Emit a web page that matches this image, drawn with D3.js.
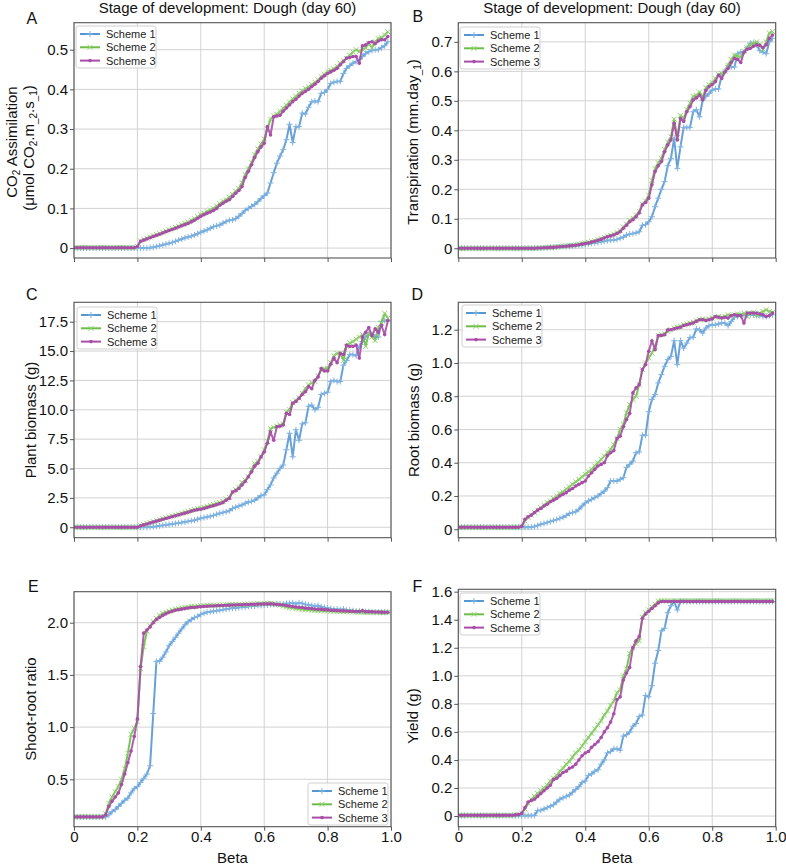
<!DOCTYPE html>
<html><head><meta charset="utf-8">
<script src="https://cdn.jsdelivr.net/npm/d3@7"></script>
<style>
body{margin:0;background:#fff;}
svg{display:block;font-family:"Liberation Sans",Arial,Helvetica,sans-serif;}
</style></head><body>
<svg id="chart" width="786" height="868"></svg>
<script>
// ---------------- DATA ----------------
const beta = d3.range(100).map(i => i / 100);
const seriesNames = ["Scheme 1", "Scheme 2", "Scheme 3"];
const xTicks = [0, 0.2, 0.4, 0.6, 0.8, 1.0];
const yTicksA = [0, 0.1, 0.2, 0.3, 0.4, 0.5];
const yTicksB = [0, 0.1, 0.2, 0.3, 0.4, 0.5, 0.6, 0.7];
const yTicksC = [0, 2.5, 5.0, 7.5, 10.0, 12.5, 15.0, 17.5];
const yTicksD = [0, 0.2, 0.4, 0.6, 0.8, 1.0, 1.2];
const yTicksE = [0.5, 1.0, 1.5, 2.0];
const yTicksF = [0, 0.2, 0.4, 0.6, 0.8, 1.0, 1.2, 1.4, 1.6];

// A: CO2 assimilation
const co2_s1 = [
0,0,0,0,0,0,0,0,0,0,
0,0,0,0,0,0,0,0,0,0,
0,0,0,0,0.001,0.002,0.004,0.006,0.008,0.010,
0.012,0.014,0.017,0.020,0.023,0.026,0.028,0.030,0.033,0.036,
0.040,0.043,0.046,0.050,0.054,0.056,0.058,0.063,0.067,0.070,
0.071,0.074,0.080,0.087,0.095,0.100,0.105,0.110,0.117,0.125,
0.132,0.139,0.164,0.190,0.214,0.232,0.248,0.273,0.312,0.266,
0.306,0.306,0.340,0.338,0.355,0.369,0.370,0.369,0.390,0.392,
0.400,0.415,0.418,0.420,0.420,0.440,0.453,0.460,0.466,0.470,
0.475,0.483,0.490,0.495,0.498,0.500,0.500,0.505,0.510,0.520];
const co2_s2 = [
0.001,0.001,0.001,0.001,0.001,0.001,0.001,0.001,0.001,0.001,
0.001,0.001,0.001,0.001,0.001,0.001,0.001,0.001,0.001,0.001,
0.004,0.018,0.022,0.025,0.028,0.031,0.034,0.037,0.040,0.043,
0.046,0.049,0.052,0.055,0.059,0.062,0.066,0.070,0.074,0.079,
0.084,0.088,0.092,0.096,0.100,0.106,0.112,0.118,0.122,0.128,
0.135,0.143,0.150,0.165,0.185,0.200,0.215,0.235,0.250,0.262,
0.275,0.300,0.325,0.333,0.337,0.345,0.352,0.360,0.368,0.376,
0.382,0.390,0.396,0.402,0.406,0.412,0.418,0.424,0.432,0.438,
0.444,0.448,0.452,0.458,0.466,0.472,0.478,0.486,0.494,0.500,
0.495,0.500,0.505,0.515,0.505,0.520,0.528,0.530,0.537,0.545];
const co2_s3 = [
0.001,0.001,0.001,0.001,0.001,0.001,0.001,0.001,0.001,0.001,
0.001,0.001,0.001,0.001,0.001,0.001,0.001,0.001,0.001,0.001,
0.004,0.017,0.020,0.023,0.026,0.029,0.032,0.035,0.038,0.041,
0.044,0.047,0.050,0.053,0.056,0.059,0.062,0.066,0.070,0.075,
0.080,0.084,0.088,0.091,0.095,0.100,0.108,0.113,0.118,0.122,
0.130,0.138,0.145,0.155,0.178,0.193,0.210,0.228,0.243,0.255,
0.264,0.306,0.285,0.331,0.333,0.335,0.345,0.353,0.361,0.369,
0.375,0.383,0.390,0.395,0.400,0.407,0.413,0.420,0.428,0.434,
0.440,0.444,0.448,0.453,0.462,0.470,0.479,0.480,0.483,0.483,
0.466,0.510,0.512,0.518,0.520,0.515,0.522,0.525,0.525,0.533];

// B: transpiration
const trans_s1 = [
0,0,0,0,0,0,0,0,0,0,
0,0,0,0,0,0,0,0,0,0,
0,0,0,0,0,0.001,0.001,0.002,0.002,0.003,
0.003,0.004,0.005,0.006,0.006,0.007,0.008,0.009,0.010,0.011,
0.013,0.015,0.017,0.018,0.020,0.022,0.024,0.026,0.027,0.028,
0.030,0.034,0.038,0.045,0.048,0.050,0.052,0.056,0.078,0.080,
0.090,0.107,0.141,0.170,0.200,0.226,0.280,0.305,0.373,0.271,
0.344,0.410,0.410,0.410,0.463,0.470,0.446,0.503,0.515,0.525,
0.537,0.540,0.540,0.587,0.600,0.620,0.615,0.615,0.660,0.665,
0.665,0.680,0.695,0.695,0.690,0.670,0.665,0.660,0.700,0.712];
const trans_s2 = [
0,0,0,0,0,0,0,0,0,0,
0,0,0,0,0,0,0,0,0,0,
0,0,0,0,0,0.001,0.001,0.002,0.003,0.003,
0.004,0.005,0.006,0.007,0.008,0.009,0.010,0.012,0.014,0.016,
0.018,0.020,0.023,0.026,0.029,0.033,0.037,0.041,0.044,0.048,
0.053,0.060,0.072,0.082,0.095,0.102,0.112,0.125,0.150,0.160,
0.180,0.230,0.270,0.290,0.305,0.335,0.360,0.378,0.438,0.375,
0.450,0.440,0.470,0.492,0.515,0.518,0.530,0.510,0.545,0.555,
0.562,0.575,0.590,0.592,0.600,0.620,0.640,0.655,0.652,0.648,
0.668,0.680,0.690,0.695,0.700,0.690,0.675,0.700,0.730,0.735];
const trans_s3 = [
0,0,0,0,0,0,0,0,0,0,
0,0,0,0,0,0,0,0,0,0,
0,0,0,0,0,0.001,0.001,0.002,0.002,0.003,
0.003,0.004,0.005,0.006,0.007,0.008,0.009,0.010,0.012,0.014,
0.016,0.018,0.021,0.024,0.027,0.030,0.035,0.039,0.042,0.045,
0.050,0.056,0.068,0.078,0.090,0.097,0.107,0.120,0.147,0.155,
0.170,0.215,0.260,0.280,0.294,0.327,0.350,0.367,0.424,0.367,
0.440,0.430,0.463,0.480,0.503,0.510,0.520,0.503,0.535,0.548,
0.555,0.565,0.587,0.576,0.598,0.610,0.630,0.644,0.640,0.630,
0.665,0.675,0.678,0.685,0.690,0.688,0.680,0.690,0.712,0.723];

// C: plant biomass
const plant_s1 = [
0,0,0,0,0,0,0,0,0,0,
0,0,0,0,0,0,0,0,0,0,
0,0,0,0,0.02,0.05,0.08,0.12,0.16,0.20,
0.24,0.28,0.32,0.36,0.40,0.45,0.50,0.55,0.60,0.68,
0.77,0.82,0.88,0.93,1.00,1.10,1.19,1.25,1.32,1.40,
1.60,1.70,1.80,1.90,2.04,2.15,2.20,2.30,2.50,2.70,
2.75,3.20,3.60,4.20,4.60,5.00,5.30,6.60,8.00,6.00,
8.30,7.40,8.80,8.90,10.30,10.40,10.00,10.20,11.30,11.40,
11.50,12.40,12.50,12.40,12.40,13.80,14.20,14.70,14.70,14.60,
15.40,15.80,16.20,16.50,16.40,16.20,16.20,17.50,17.60,17.60];
const plant_s2 = [
0,0,0,0,0,0,0,0,0,0,
0,0,0,0,0,0,0,0,0,0,
0,0.14,0.23,0.31,0.40,0.48,0.56,0.64,0.72,0.80,
0.88,0.96,1.03,1.11,1.19,1.27,1.35,1.43,1.51,1.58,
1.62,1.70,1.78,1.86,1.94,2.02,2.10,2.20,2.40,2.55,
3.00,3.20,3.40,3.80,4.00,4.30,4.90,5.40,5.60,6.00,
6.60,7.30,8.40,8.50,8.60,8.70,8.80,9.80,10.00,10.60,
10.80,11.00,11.40,11.80,12.10,12.30,12.40,12.90,13.40,13.50,
13.50,14.00,14.60,14.80,14.80,14.20,15.40,15.70,15.80,16.00,
16.20,16.40,15.40,16.50,16.20,15.90,17.00,17.40,18.20,17.80];
const plant_s3 = [
0,0,0,0,0,0,0,0,0,0,
0,0,0,0,0,0,0,0,0,0,
0,0.12,0.20,0.28,0.36,0.44,0.52,0.60,0.68,0.75,
0.82,0.90,0.97,1.05,1.13,1.20,1.28,1.37,1.45,1.50,
1.53,1.60,1.68,1.76,1.84,1.92,2.00,2.10,2.30,2.45,
3.00,3.10,3.30,3.60,3.90,4.30,4.70,5.20,5.45,6.00,
6.40,7.15,8.10,7.40,8.55,8.60,8.70,9.70,9.60,10.55,
10.70,10.98,11.30,11.54,11.97,11.80,12.50,12.80,13.50,13.30,
13.30,13.90,14.40,14.00,14.80,14.70,15.50,15.40,15.40,15.50,
14.40,16.20,16.60,17.00,16.30,16.90,16.60,17.20,16.40,17.60];

// D: root biomass
const root_s1 = [
0.012,0.012,0.012,0.012,0.012,0.012,0.012,0.012,0.012,0.012,
0.012,0.012,0.012,0.012,0.012,0.012,0.012,0.012,0.012,0.012,
0.012,0.012,0.012,0.013,0.016,0.022,0.030,0.034,0.040,0.046,
0.052,0.058,0.065,0.072,0.082,0.095,0.100,0.105,0.120,0.140,
0.158,0.170,0.180,0.190,0.200,0.215,0.229,0.250,0.290,0.290,
0.290,0.300,0.310,0.372,0.390,0.410,0.460,0.465,0.565,0.565,
0.707,0.780,0.810,0.880,0.930,0.980,1.020,1.040,1.134,0.990,
1.134,1.090,1.120,1.154,1.154,1.205,1.200,1.180,1.210,1.225,
1.230,1.230,1.235,1.240,1.240,1.225,1.250,1.276,1.280,1.285,
1.290,1.290,1.290,1.290,1.285,1.285,1.280,1.280,1.285,1.290];
const root_s2 = [
0.012,0.012,0.012,0.012,0.012,0.012,0.012,0.012,0.012,0.012,
0.012,0.012,0.012,0.012,0.012,0.012,0.012,0.012,0.012,0.012,
0.018,0.050,0.070,0.085,0.100,0.115,0.130,0.145,0.160,0.170,
0.185,0.200,0.215,0.225,0.240,0.255,0.270,0.285,0.300,0.315,
0.330,0.345,0.360,0.380,0.400,0.420,0.440,0.460,0.480,0.510,
0.545,0.600,0.630,0.700,0.750,0.780,0.800,0.870,0.960,1.000,
1.030,1.060,1.100,1.165,1.170,1.175,1.190,1.200,1.210,1.215,
1.220,1.230,1.235,1.240,1.245,1.255,1.260,1.265,1.260,1.265,
1.270,1.275,1.280,1.275,1.280,1.290,1.285,1.290,1.295,1.290,
1.300,1.280,1.300,1.305,1.285,1.300,1.310,1.320,1.310,1.305];
const root_s3 = [
0.012,0.012,0.012,0.012,0.012,0.012,0.012,0.012,0.012,0.012,
0.012,0.012,0.012,0.012,0.012,0.012,0.012,0.012,0.012,0.012,
0.018,0.060,0.075,0.085,0.100,0.115,0.125,0.140,0.150,0.165,
0.175,0.185,0.200,0.210,0.220,0.235,0.245,0.260,0.270,0.280,
0.290,0.320,0.340,0.360,0.380,0.390,0.400,0.443,0.460,0.473,
0.545,0.560,0.616,0.660,0.697,0.820,0.850,0.870,0.960,0.990,
1.070,1.134,1.080,1.165,1.165,1.170,1.200,1.200,1.205,1.210,
1.215,1.225,1.230,1.235,1.240,1.250,1.260,1.260,1.255,1.260,
1.265,1.280,1.275,1.270,1.275,1.270,1.285,1.290,1.285,1.285,
1.240,1.300,1.300,1.300,1.300,1.295,1.290,1.280,1.285,1.300];

// E: shoot-root ratio
const ratio_s1 = [
0.14,0.14,0.14,0.14,0.14,0.14,0.14,0.14,0.14,0.14,
0.14,0.16,0.19,0.21,0.24,0.27,0.30,0.32,0.37,0.41,
0.43,0.47,0.51,0.55,0.63,1.13,1.63,1.63,1.67,1.72,
1.78,1.82,1.86,1.90,1.94,1.98,2.01,2.03,2.05,2.06,
2.08,2.09,2.10,2.105,2.11,2.115,2.12,2.125,2.13,2.135,
2.14,2.14,2.145,2.15,2.15,2.155,2.16,2.16,2.165,2.165,
2.17,2.17,2.175,2.175,2.18,2.18,2.18,2.185,2.185,2.19,
2.18,2.19,2.185,2.175,2.17,2.165,2.16,2.165,2.15,2.145,
2.14,2.135,2.13,2.13,2.125,2.13,2.12,2.12,2.115,2.11,
2.11,2.11,2.105,2.105,2.10,2.10,2.10,2.10,2.10,2.10];
const ratio_s2 = [
0.14,0.14,0.14,0.14,0.14,0.14,0.14,0.14,0.14,0.14,
0.17,0.27,0.33,0.38,0.43,0.50,0.60,0.75,0.93,0.99,
1.05,1.56,1.77,1.92,1.97,2.01,2.04,2.07,2.09,2.10,
2.11,2.12,2.13,2.135,2.14,2.145,2.15,2.155,2.155,2.16,
2.162,2.164,2.165,2.166,2.167,2.168,2.169,2.17,2.171,2.172,
2.173,2.174,2.175,2.176,2.177,2.178,2.179,2.18,2.181,2.182,
2.185,2.185,2.185,2.18,2.175,2.17,2.16,2.15,2.145,2.14,
2.135,2.13,2.128,2.125,2.122,2.12,2.118,2.116,2.115,2.113,
2.112,2.11,2.11,2.108,2.107,2.106,2.105,2.104,2.103,2.102,
2.102,2.101,2.10,2.10,2.10,2.10,2.10,2.10,2.098,2.10];
const ratio_s3 = [
0.14,0.14,0.14,0.14,0.14,0.14,0.14,0.14,0.14,0.14,
0.16,0.24,0.29,0.33,0.37,0.45,0.55,0.66,0.77,0.91,
1.08,1.58,1.90,1.93,1.96,2.00,2.03,2.05,2.07,2.085,
2.10,2.11,2.12,2.125,2.13,2.135,2.14,2.145,2.145,2.15,
2.153,2.155,2.157,2.16,2.16,2.162,2.165,2.165,2.167,2.168,
2.17,2.17,2.172,2.172,2.174,2.175,2.176,2.177,2.178,2.179,
2.18,2.18,2.18,2.178,2.175,2.172,2.17,2.165,2.16,2.155,
2.15,2.148,2.145,2.14,2.138,2.135,2.132,2.13,2.128,2.125,
2.123,2.12,2.118,2.116,2.115,2.113,2.112,2.11,2.11,2.108,
2.108,2.115,2.106,2.105,2.104,2.103,2.102,2.101,2.10,2.10];

// F: yield
const yield_s1 = [
0.003,0.003,0.003,0.003,0.003,0.003,0.003,0.003,0.003,0.003,
0.003,0.003,0.003,0.003,0.003,0.003,0.003,0.003,0.003,0.003,
0.003,0.003,0.003,0.003,0.005,0.040,0.040,0.050,0.060,0.070,
0.080,0.100,0.120,0.130,0.140,0.150,0.170,0.190,0.210,0.240,
0.250,0.290,0.300,0.320,0.330,0.370,0.400,0.450,0.460,0.480,
0.480,0.470,0.570,0.580,0.600,0.640,0.660,0.710,0.720,0.860,
0.850,0.930,1.090,1.180,1.320,1.340,1.450,1.500,1.530,1.470,
1.530,1.530,1.530,1.530,1.530,1.530,1.530,1.530,1.530,1.530,
1.530,1.530,1.530,1.530,1.530,1.530,1.530,1.530,1.530,1.530,
1.530,1.530,1.530,1.530,1.530,1.530,1.530,1.530,1.530,1.530];
const yield_s2 = [
0.005,0.005,0.005,0.005,0.005,0.005,0.005,0.005,0.005,0.005,
0.005,0.005,0.005,0.005,0.005,0.005,0.005,0.005,0.008,0.010,
0.020,0.050,0.090,0.120,0.140,0.160,0.180,0.200,0.220,0.250,
0.270,0.290,0.320,0.340,0.370,0.390,0.420,0.450,0.470,0.500,
0.530,0.560,0.590,0.620,0.650,0.680,0.720,0.750,0.790,0.820,
0.880,0.900,1.000,1.050,1.160,1.200,1.230,1.250,1.420,1.450,
1.470,1.490,1.510,1.535,1.535,1.535,1.535,1.535,1.535,1.535,
1.535,1.535,1.535,1.535,1.535,1.535,1.535,1.535,1.535,1.535,
1.535,1.535,1.535,1.535,1.535,1.535,1.535,1.535,1.535,1.535,
1.535,1.535,1.535,1.535,1.535,1.535,1.535,1.535,1.535,1.535];
const yield_s3 = [
0.005,0.005,0.005,0.005,0.005,0.005,0.005,0.005,0.005,0.005,
0.005,0.005,0.005,0.005,0.005,0.005,0.005,0.005,0.008,0.010,
0.020,0.060,0.100,0.110,0.120,0.140,0.160,0.180,0.200,0.220,
0.260,0.270,0.290,0.310,0.320,0.340,0.350,0.370,0.400,0.430,
0.450,0.460,0.490,0.510,0.530,0.560,0.600,0.630,0.670,0.730,
0.830,0.850,0.970,1.020,1.060,1.200,1.250,1.280,1.410,1.440,
1.460,1.480,1.500,1.520,1.530,1.530,1.530,1.530,1.530,1.530,
1.530,1.530,1.530,1.530,1.530,1.530,1.530,1.530,1.530,1.530,
1.530,1.530,1.530,1.530,1.530,1.530,1.530,1.530,1.530,1.530,
1.530,1.530,1.530,1.530,1.530,1.530,1.530,1.530,1.530,1.530];

// ---------------- STYLE / LAYOUT ----------------
const colors = ["#5597d3", "#6dbe48", "#a84ea8"];
const markerColors = ["#7fb3e2", "#8fd56c", "#a84ea8"];
const FONT = 15;

const panels = [
  {letter:"A", lx:26.5, ly:24, box:[74,22.7,391,258], yDomain:[-0.025,0.568], yTicks:yTicksA,
   series:[co2_s1,co2_s2,co2_s3], legend:[76,26], xLabels:false, title:true},
  {letter:"B", lx:412.5, ly:22, box:[458.3,22.7,775.7,258], yDomain:[-0.033,0.765], yTicks:yTicksB,
   series:[trans_s1,trans_s2,trans_s3], legend:[460,27], xLabels:false, title:true},
  {letter:"C", lx:26, ly:300, box:[74,302.3,391,537.7], yDomain:[-0.89,19.15], yTicks:yTicksC,
   series:[plant_s1,plant_s2,plant_s3], legend:[77,307], xLabels:false},
  {letter:"D", lx:411.5, ly:300, box:[458.3,302.3,775.7,537.7], yDomain:[-0.051,1.365], yTicks:yTicksD,
   series:[root_s1,root_s2,root_s3], legend:[462,305], xLabels:false},
  {letter:"E", lx:28, ly:592, box:[74,591.7,391,826.7], yDomain:[0.046,2.297], yTicks:yTicksE,
   series:[ratio_s1,ratio_s2,ratio_s3], legend:[308,783], xLabels:true},
  {letter:"F", lx:412.5, ly:592, box:[458.3,589.3,775.7,826.7], yDomain:[-0.076,1.617], yTicks:yTicksF,
   series:[yield_s1,yield_s2,yield_s3], legend:[460,593], xLabels:true}
];

const svg = d3.select("#chart");
const fmt = v => v === 0 ? "0" : v.toFixed(1);

function drawMarker(sel, k) {
  if (k === 0) {
    sel.append("path").attr("d","M-3,0H3M0,-3V3").attr("stroke",markerColors[0]).attr("stroke-width",1).attr("fill","none");
  } else if (k === 1) {
    sel.append("path").attr("d","M-2.5,-2.5L2.5,2.5M-2.5,2.5L2.5,-2.5").attr("stroke",markerColors[1]).attr("stroke-width",1).attr("fill","none");
  } else {
    sel.append("circle").attr("r",1.8).attr("fill",markerColors[2]);
  }
}

function subText(t, parts) {
  let prevSub = false;
  parts.forEach(([s, sub]) => {
    const ts = t.append("tspan").text(s);
    if (sub && !prevSub) ts.attr("dy", 3).attr("font-size", 10);
    else if (!sub && prevSub) ts.attr("dy", -3).attr("font-size", FONT);
    else if (sub) ts.attr("font-size", 10);
    prevSub = sub;
  });
}

panels.forEach((p, pi) => {
  const [x0, y0, x1, y1] = p.box;
  const x = d3.scaleLinear().domain([0, 1]).range([x0, x1]);
  const y = d3.scaleLinear().domain(p.yDomain).range([y1, y0]);
  const g = svg.append("g");

  g.append("g").selectAll("line").data(xTicks).join("line")
    .attr("x1", d => x(d)).attr("x2", d => x(d)).attr("y1", y0).attr("y2", y1)
    .attr("stroke", "#d2d2d2").attr("stroke-width", 1);
  g.append("g").selectAll("line").data(p.yTicks).join("line")
    .attr("x1", x0).attr("x2", x1).attr("y1", d => y(d)).attr("y2", d => y(d))
    .attr("stroke", "#d2d2d2").attr("stroke-width", 1);

  const cid = "clip" + pi;
  svg.append("clipPath").attr("id", cid).append("rect")
    .attr("x", x0).attr("y", y0).attr("width", x1 - x0).attr("height", y1 - y0);
  const plot = g.append("g").attr("clip-path", `url(#${cid})`);

  const line = d3.line().x((d, i) => x(beta[i])).y(d => y(d));
  p.series.forEach((s, k) => {
    const sg = plot.append("g");
    sg.append("path").datum(s).attr("d", line).attr("fill", "none")
      .attr("stroke", colors[k]).attr("stroke-width", 2).attr("stroke-opacity", 0.9)
      .attr("stroke-linejoin", "round");
    const mk = sg.selectAll("g.m").data(s).join("g")
      .attr("transform", (d, i) => `translate(${x(beta[i])},${y(d)})`);
    mk.each(function() { drawMarker(d3.select(this), k); });
  });

  g.append("rect").attr("x", x0).attr("y", y0).attr("width", x1 - x0).attr("height", y1 - y0)
    .attr("fill", "none").attr("stroke", "#555").attr("stroke-width", 1.1);

  const ay = g.append("g").attr("transform", `translate(${x0},0)`)
    .call(d3.axisLeft(y).tickValues(p.yTicks).tickFormat(fmt).tickSize(4).tickPadding(2).tickSizeOuter(0));
  const ax = g.append("g").attr("transform", `translate(0,${y1})`)
    .call(d3.axisBottom(x).tickValues(xTicks).tickFormat(p.xLabels ? fmt : () => "").tickSize(4).tickPadding(1).tickSizeOuter(0));
  [ay, ax].forEach(a => {
    a.select(".domain").remove();
    a.selectAll(".tick line").attr("stroke", "#555");
    a.selectAll(".tick text").attr("fill", "#111").attr("font-size", FONT)
      .attr("font-family", '"Liberation Sans",Arial,sans-serif');
  });

  svg.append("text").attr("x", p.lx).attr("y", p.ly).attr("font-size", 16).attr("fill", "#111").text(p.letter);

  if (p.title) {
    svg.append("text").attr("x", (x0 + x1) / 2 - 5).attr("y", 13).attr("text-anchor", "middle")
      .attr("font-size", FONT).attr("fill", "#111").text("Stage of development: Dough (day 60)");
  }
  if (p.xLabels) {
    svg.append("text").attr("x", (x0 + x1) / 2).attr("y", 863).attr("text-anchor", "middle")
      .attr("font-size", FONT).attr("fill", "#111").text("Beta");
  }

  const [lx, ly] = p.legend;
  const lg = svg.append("g").attr("transform", `translate(${lx},${ly})`);
  lg.append("rect").attr("width", 80).attr("height", 42).attr("rx", 2.5)
    .attr("fill", "#fff").attr("fill-opacity", 0.85).attr("stroke", "#d0d0d0");
  seriesNames.forEach((nm, k) => {
    const ry = 8 + k * 13.3;
    lg.append("line").attr("x1", 4).attr("x2", 24).attr("y1", ry).attr("y2", ry)
      .attr("stroke", colors[k]).attr("stroke-width", 2);
    drawMarker(lg.append("g").attr("transform", `translate(14,${ry})`), k);
    lg.append("text").attr("x", 30).attr("y", ry + 4).attr("font-size", 11).attr("fill", "#222").text(nm);
  });
});

function ylab(xp, yp, parts) {
  const t = svg.append("text").attr("transform", `translate(${xp},${yp}) rotate(-90)`)
    .attr("text-anchor", "middle").attr("font-size", FONT).attr("fill", "#111");
  subText(t, parts);
}
ylab(16.5, 142, [["CO", false], ["2", true], [" Assimilation", false]]);
ylab(33.5, 148, [["(μmol CO", false], ["2", true], [".m", false], ["_2", true], [".s", false], ["_1", true], [")", false]]);
ylab(418, 142, [["Transpiration (mm.day", false], ["_1", true], [")", false]]);
ylab(35.5, 420, [["Plant biomass (g)", false]]);
ylab(419, 420, [["Root biomass (g)", false]]);
ylab(35.5, 709, [["Shoot-root ratio", false]]);
ylab(418, 716, [["Yield (g)", false]]);
</script>
</body></html>
